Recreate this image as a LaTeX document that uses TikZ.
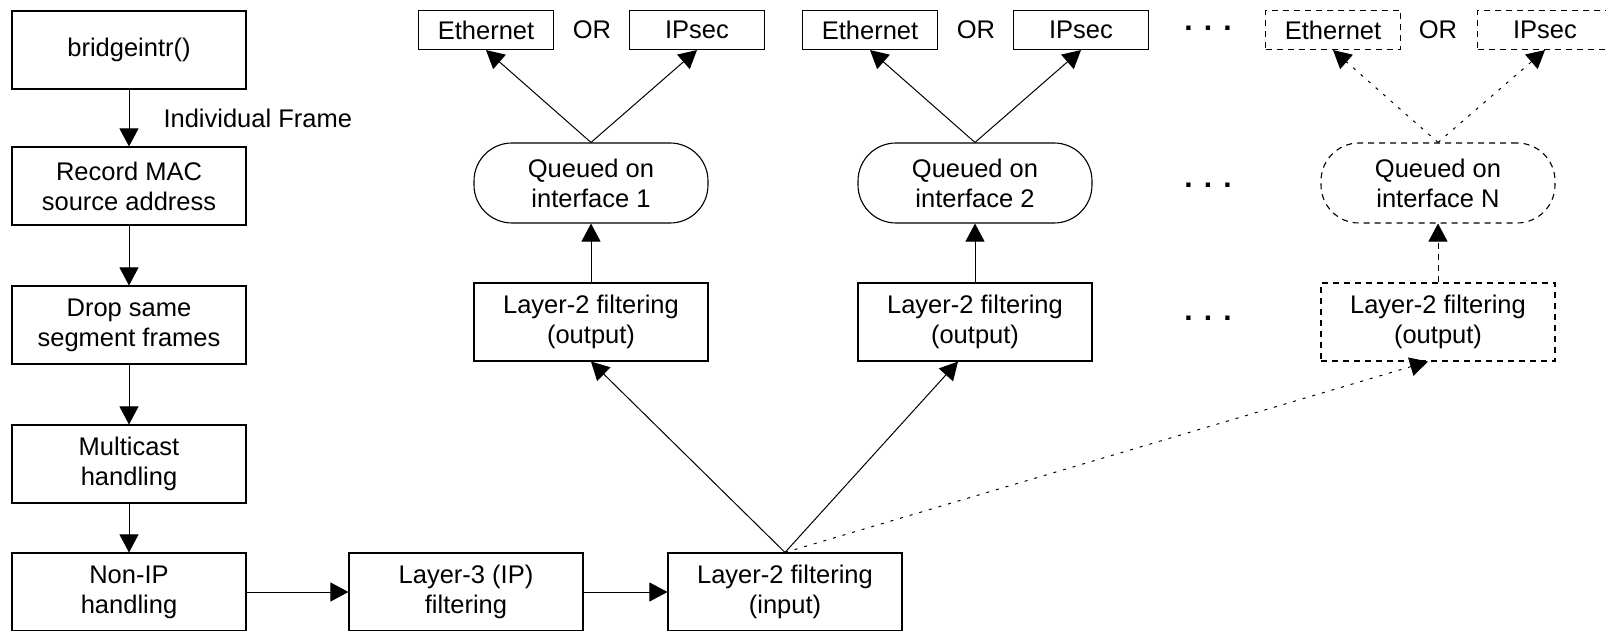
\documentclass[tikz,border=0pt]{standalone}
\usepackage{fontspec}
\setmainfont{Liberation Sans}
\usetikzlibrary{arrows.meta}
\tikzset{
  box/.style={draw, line width=1.1pt, minimum width=234pt, minimum height=78pt, inner sep=0pt, align=center},
  smallbox/.style={draw, line width=1.1pt, minimum width=135pt, minimum height=39pt, inner sep=0pt},
  queue/.style={box, rounded corners=38pt, minimum height=80pt},
  dashbox/.style={dash pattern=on 6pt off 5pt},
  link/.style={line width=1pt, -{Triangle[length=18pt,width=19pt]}},
  dotlink/.style={link, dash pattern=on 3pt off 7pt},
  dots/.style={font=\fontsize{30}{30}\selectfont\bfseries}
}
\begin{document}
\begin{tikzpicture}[x=1pt, y=-1pt, font=\fontsize{25.5}{30}\selectfont]
\useasboundingbox (0,0) rectangle (1606,631);
% left column
\node[box] (br) at (129,50) {bridgeintr()};
\node[box] (rec) at (129,186) {Record MAC\\source address};
\node[box] (drop) at (129,325) {Drop same\\segment frames};
\node[box] (mcast) at (129,464) {Multicast\\handling};
\node[box] (nonip) at (129,592) {Non-IP\\handling};
\node[box] (lthree) at (466,592) {Layer-3 (IP)\\filtering};
\node[box] (ltwoin) at (785,592) {Layer-2 filtering\\(input)};
\draw[link] (br) -- node[right=34pt, inner sep=0pt] (frame) {Individual Frame} (rec);
\draw[link] (rec) -- (drop);
\draw[link] (drop) -- (mcast);
\draw[link] (mcast) -- (nonip);
\draw[link] (nonip) -- (lthree);
\draw[link] (lthree) -- (ltwoin);
% interfaces 1 and 2
\foreach \n/\cx/\sh in {1/591/0, 2/975/-17} {
  \node[queue] (q\n) at (\cx,183) {Queued on\\interface \n};
  \node[box] (out\n) at (\cx,322) {Layer-2 filtering\\(output)};
  \node[smallbox] (eth\n) at (\cx-105,30) {Ethernet};
  \node[smallbox] (ips\n) at (\cx+106,30) {IPsec};
  \node (or\n) at (\cx+1,30) {OR};
  \draw[link] (out\n) -- (q\n);
  \draw[link] (q\n.north) -- (eth\n.south);
  \draw[link] (q\n.north) -- (ips\n.south);
  \draw[link] (ltwoin.north) -- ([xshift=\sh pt]out\n.south);
}
% interface N
\node[queue, dashbox] (qN) at (1438,183) {Queued on\\interface N};
\node[box, dashbox] (outN) at (1438,322) {Layer-2 filtering\\(output)};
\node[smallbox, dashbox] (ethN) at (1333,30) {Ethernet};
\node[smallbox, dashbox] (ipsN) at (1545,30) {IPsec};
\node (orN) at (1438,30) {OR};
\draw[link, dashbox] (outN) -- (qN);
\draw[dotlink] (qN.north) -- (ethN.south);
\draw[dotlink] (qN.north) -- (ipsN.south);
\draw[dotlink] (ltwoin.north) -- ([xshift=-10pt]outN.south);
% ellipsis
\node[dots] (dotsa) at (1208,28) {. . .};
\node[dots] (dotsb) at (1208,185) {. . .};
\node[dots] (dotsc) at (1208,318) {. . .};
\end{tikzpicture}
\end{document}
